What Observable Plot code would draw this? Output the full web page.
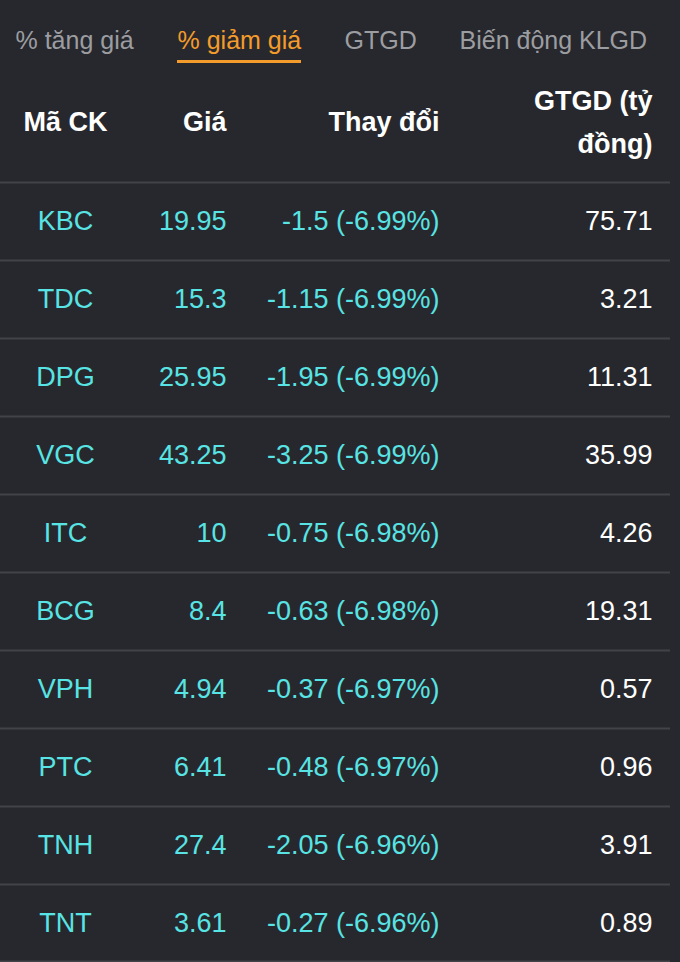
<!DOCTYPE html>
<html>
<head>
<meta charset="utf-8">
<script src="https://cdn.jsdelivr.net/npm/d3@7"></script>
<script src="https://cdn.jsdelivr.net/npm/@observablehq/plot@0.6"></script>
<style>
  html, body { margin: 0; padding: 0; background: #27282d; }
  #chart svg { display: block; }
</style>
</head>
<body>
<div id="chart"></div>
<script>
// ---- Data ----
const tabs = ["% tăng giá", "% giảm giá", "GTGD", "Biến động KLGD"];
const activeTab = "% giảm giá";
const headers = ["Mã CK", "Giá", "Thay đổi", "GTGD (tỷ\nđồng)"];
const codes = ["KBC", "TDC", "DPG", "VGC", "ITC", "BCG", "VPH", "PTC", "TNH", "TNT"];
const prices = [19.95, 15.3, 25.95, 43.25, 10, 8.4, 4.94, 6.41, 27.4, 3.61];
const changes = [-1.5, -1.15, -1.95, -3.25, -0.75, -0.63, -0.37, -0.48, -2.05, -0.27];
const changePct = [-6.99, -6.99, -6.99, -6.99, -6.98, -6.98, -6.97, -6.97, -6.96, -6.96];
const values = [75.71, 3.21, 11.31, 35.99, 4.26, 19.31, 0.57, 0.96, 3.91, 0.89];

// ---- Layout ----
const W = 680, H = 962;
const tabX = [15, 177, 344, 459];
const tabY = 40;
const colX = [65, 226, 439, 652];
const colAnchor = ["middle", "end", "end", "end"];
const headerY = 117;
const rowTop = 182, rowH = 78;
const font = "'Liberation Sans', Arial, Helvetica, sans-serif";
const cyan = "#58e4e4";
const orange = "#f39c2b";

const rows = codes.map((c, i) => ({
  i,
  code: c,
  price: String(prices[i]),
  change: `${changes[i]} (${changePct[i].toFixed(2)}%)`,
  value: values[i].toFixed(2)
}));
const rowY = d => rowTop + d.i * rowH + rowH / 2;
const sepLines = d3.range(codes.length + 1).map(k => Math.min(rowTop + k * rowH, H - 1));
const tabData = tabs.map((t, i) => ({t, i}));
const headData = headers.map((h, i) => ({h, i}));

const cellMark = (key, col, fill) => Plot.text(rows, {
  x: () => colX[col], y: rowY, text: key,
  textAnchor: colAnchor[col], lineAnchor: "middle",
  fill, fontSize: 27, fontFamily: font
});
const headMark = anchor => Plot.text(headData.filter(d => colAnchor[d.i] === anchor), {
  x: d => colX[d.i], y: () => headerY, text: "h",
  textAnchor: anchor, lineAnchor: "middle",
  lineHeight: 1.6,
  fill: "#ffffff", fontWeight: "bold", fontSize: 27, fontFamily: font
});

const plot = Plot.plot({
  width: W, height: H,
  margin: 0,
  x: {type: "linear", domain: [0, W], range: [0, W], axis: null},
  y: {type: "linear", domain: [0, H], range: [0, H], axis: null},
  style: {background: "#27282d", fontFamily: font},
  marks: [
    // tabs
    Plot.text(tabData, {
      x: d => tabX[d.i], y: () => tabY, text: "t",
      textAnchor: "start", lineAnchor: "middle",
      fill: d => d.t === activeTab ? orange : "#9c9da1",
      fontSize: 25, fontFamily: font
    }),
    Plot.ruleY([61], {
      x1: tabX[tabs.indexOf(activeTab)],
      x2: tabX[tabs.indexOf(activeTab)] + 124,
      stroke: orange, strokeWidth: 3
    }),
    // header
    headMark("middle"),
    headMark("end"),
    // separators
    Plot.ruleY(sepLines, {x1: 0, x2: 670, stroke: "#424348", strokeWidth: 2}),
    // cells
    cellMark("code", 0, cyan),
    cellMark("price", 1, cyan),
    cellMark("change", 2, cyan),
    cellMark("value", 3, "#ffffff")
  ]
});
document.getElementById("chart").appendChild(plot);
</script>
</body>
</html>
